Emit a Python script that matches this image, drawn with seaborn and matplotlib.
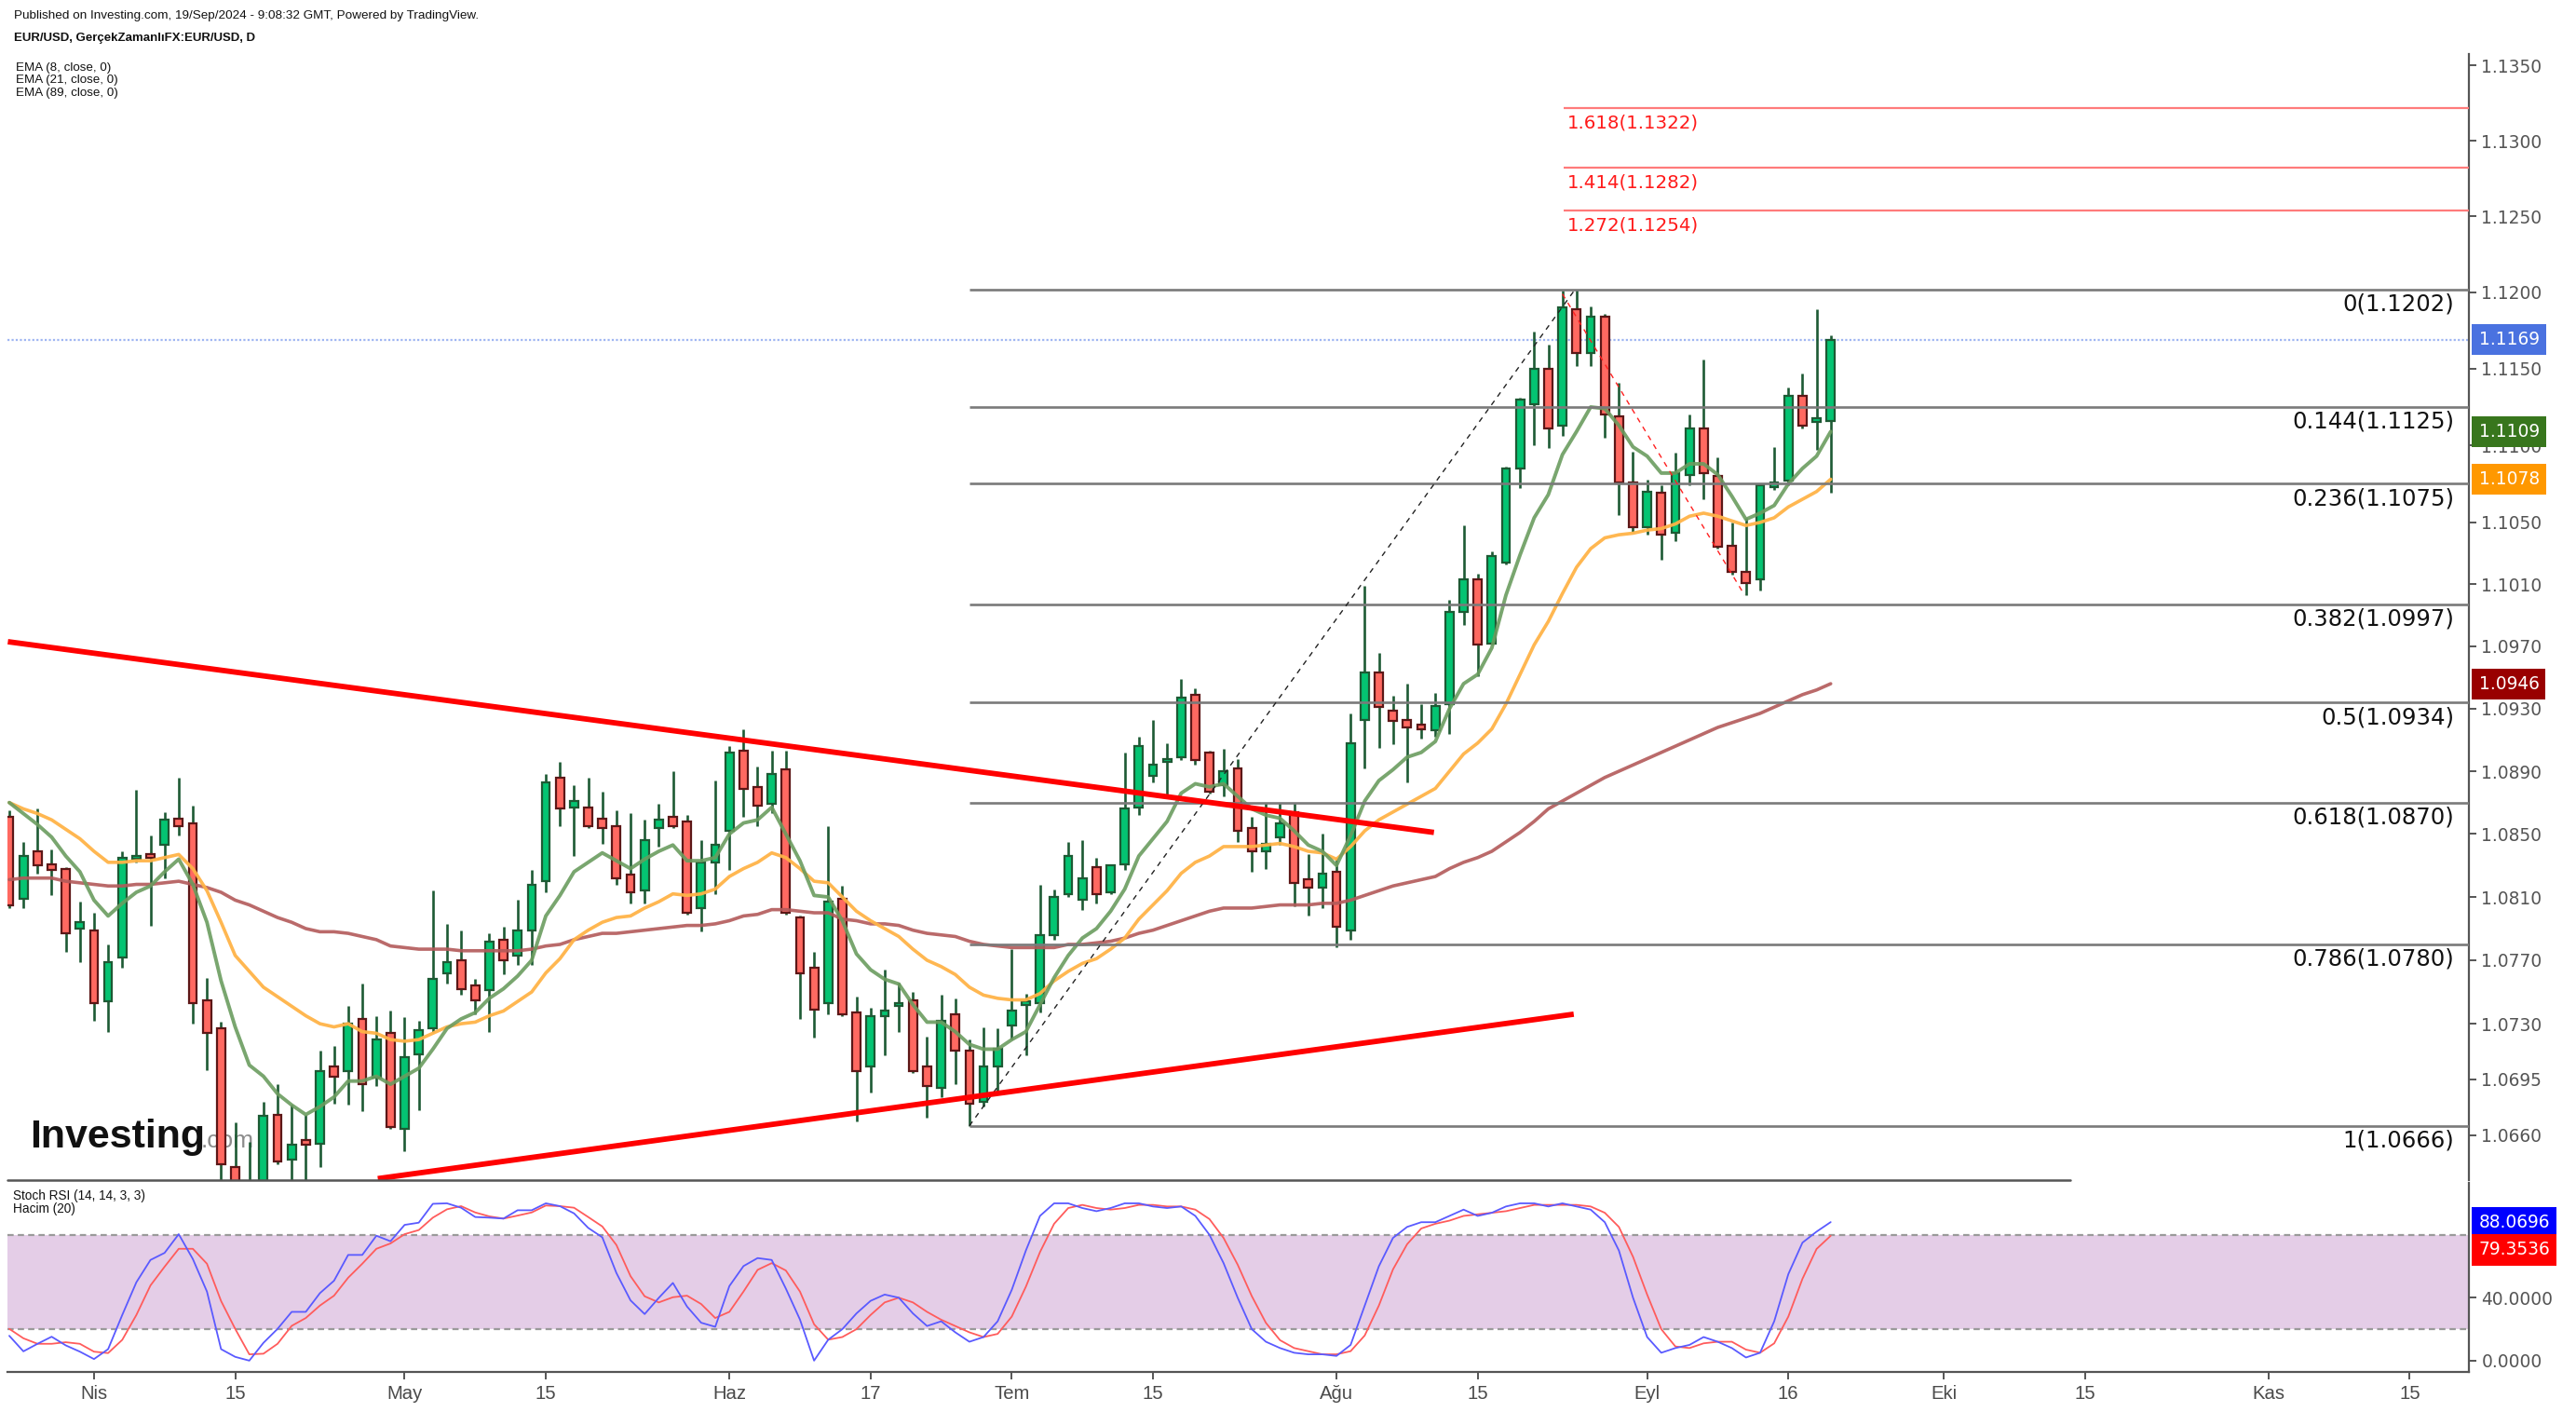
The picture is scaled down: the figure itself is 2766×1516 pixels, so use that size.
import numpy as np
import pandas as pd
import matplotlib
matplotlib.use("Agg")
import matplotlib.pyplot as plt
import matplotlib.transforms as mtransforms
from matplotlib.ticker import FixedLocator, NullLocator, NullFormatter, FuncFormatter
import seaborn as sns

sns.set_theme(style="white")
plt.rcParams["font.family"] = ["DejaVu Sans"]

# EUR/USD daily candles, first bar = 22 Mar 2024
start_day = "2024-03-22"
opens = [1.0861, 1.0809, 1.0839, 1.0831, 1.0828, 1.0790, 1.0789, 1.0744, 1.0772, 1.0834,
         1.0837, 1.0843, 1.0860, 1.0857, 1.0745, 1.0727, 1.0640, 1.0624, 1.0617, 1.0673,
         1.0645, 1.0657, 1.0655, 1.0703, 1.0700, 1.0733, 1.0696, 1.0724, 1.0664, 1.0711,
         1.0727, 1.0762, 1.0770, 1.0754, 1.0751, 1.0783, 1.0773, 1.0789, 1.0820, 1.0886,
         1.0867, 1.0867, 1.0860, 1.0855, 1.0824, 1.0814, 1.0854, 1.0861, 1.0858, 1.0803,
         1.0832, 1.0852, 1.0903, 1.0880, 1.0869, 1.0891, 1.0797, 1.0765, 1.0743, 1.0809,
         1.0737, 1.0703, 1.0735, 1.0741, 1.0745, 1.0703, 1.0690, 1.0736, 1.0713, 1.0681,
         1.0703, 1.0729, 1.0742, 1.0743, 1.0786, 1.0812, 1.0808, 1.0829, 1.0813, 1.0831,
         1.0867, 1.0887, 1.0896, 1.0899, 1.0939, 1.0902, 1.0881, 1.0892, 1.0854, 1.0839,
         1.0848, 1.0864, 1.0821, 1.0816, 1.0826, 1.0789, 1.0923, 1.0953, 1.0929, 1.0923,
         1.0920, 1.0916, 1.0933, 1.0992, 1.1013, 1.0972, 1.1024, 1.1085, 1.1127, 1.1150,
         1.1113, 1.1189, 1.1160, 1.1184, 1.1119, 1.1076, 1.1047, 1.1069, 1.1043, 1.1081,
         1.1111, 1.1080, 1.1035, 1.1018, 1.1013, 1.1073, 1.1077, 1.1132, 1.1115, 1.1116]
highs = [1.0865, 1.0845, 1.0866, 1.0840, 1.0829, 1.0807, 1.0800, 1.0780, 1.0839, 1.0878,
         1.0849, 1.0864, 1.0886, 1.0868, 1.0759, 1.0731, 1.0668, 1.0656, 1.0681, 1.0692,
         1.0679, 1.0673, 1.0713, 1.0716, 1.0741, 1.0755, 1.0735, 1.0738, 1.0734, 1.0732,
         1.0814, 1.0793, 1.0789, 1.0758, 1.0787, 1.0791, 1.0808, 1.0827, 1.0888, 1.0896,
         1.0881, 1.0886, 1.0877, 1.0865, 1.0863, 1.0859, 1.0869, 1.0890, 1.0862, 1.0846,
         1.0884, 1.0906, 1.0917, 1.0893, 1.0903, 1.0903, 1.0798, 1.0775, 1.0855, 1.0817,
         1.0747, 1.0740, 1.0764, 1.0756, 1.0750, 1.0722, 1.0748, 1.0746, 1.0720, 1.0728,
         1.0727, 1.0777, 1.0749, 1.0818, 1.0815, 1.0845, 1.0846, 1.0835, 1.0831, 1.0902,
         1.0912, 1.0923, 1.0908, 1.0949, 1.0943, 1.0903, 1.0904, 1.0898, 1.0861, 1.0870,
         1.0870, 1.0870, 1.0837, 1.0850, 1.0835, 1.0927, 1.1009, 1.0966, 1.0938, 1.0946,
         1.0933, 1.0940, 1.1000, 1.1048, 1.1017, 1.1031, 1.1086, 1.1131, 1.1174, 1.1166,
         1.1201, 1.1202, 1.1191, 1.1186, 1.1141, 1.1096, 1.1078, 1.1074, 1.1095, 1.1120,
         1.1156, 1.1092, 1.1050, 1.1053, 1.1075, 1.1099, 1.1138, 1.1147, 1.1189, 1.1172]
lows = [1.0803, 1.0803, 1.0825, 1.0811, 1.0775, 1.0769, 1.0732, 1.0725, 1.0765, 1.0832,
        1.0792, 1.0822, 1.0849, 1.0730, 1.0701, 1.0622, 1.0610, 1.0601, 1.0604, 1.0642,
        1.0612, 1.0624, 1.0640, 1.0680, 1.0679, 1.0675, 1.0691, 1.0664, 1.0650, 1.0676,
        1.0725, 1.0755, 1.0748, 1.0736, 1.0725, 1.0761, 1.0767, 1.0767, 1.0813, 1.0855,
        1.0836, 1.0854, 1.0844, 1.0818, 1.0806, 1.0806, 1.0842, 1.0854, 1.0799, 1.0788,
        1.0812, 1.0827, 1.0861, 1.0855, 1.0863, 1.0799, 1.0733, 1.0721, 1.0736, 1.0735,
        1.0669, 1.0687, 1.0710, 1.0725, 1.0699, 1.0671, 1.0684, 1.0692, 1.0666, 1.0678,
        1.0687, 1.0720, 1.0710, 1.0737, 1.0783, 1.0810, 1.0802, 1.0806, 1.0812, 1.0827,
        1.0862, 1.0883, 1.0874, 1.0897, 1.0894, 1.0876, 1.0874, 1.0845, 1.0826, 1.0828,
        1.0843, 1.0804, 1.0798, 1.0803, 1.0778, 1.0783, 1.0892, 1.0905, 1.0907, 1.0883,
        1.0911, 1.0912, 1.0914, 1.0984, 1.0951, 1.0971, 1.1023, 1.1072, 1.1100, 1.1098,
        1.1106, 1.1152, 1.1152, 1.1105, 1.1055, 1.1044, 1.1042, 1.1026, 1.1038, 1.1074,
        1.1065, 1.1033, 1.1016, 1.1003, 1.1006, 1.1071, 1.1074, 1.1111, 1.1097, 1.1069]
closes = [1.0805, 1.0836, 1.0830, 1.0827, 1.0787, 1.0794, 1.0743, 1.0769, 1.0835, 1.0836,
          1.0835, 1.0859, 1.0855, 1.0743, 1.0724, 1.0642, 1.0624, 1.0617, 1.0672, 1.0644,
          1.0654, 1.0654, 1.0700, 1.0697, 1.0730, 1.0692, 1.0720, 1.0665, 1.0709, 1.0726,
          1.0758, 1.0769, 1.0752, 1.0745, 1.0782, 1.0770, 1.0789, 1.0818, 1.0883, 1.0866,
          1.0871, 1.0855, 1.0854, 1.0822, 1.0813, 1.0846, 1.0859, 1.0855, 1.0800, 1.0832,
          1.0843, 1.0902, 1.0879, 1.0868, 1.0888, 1.0800, 1.0762, 1.0739, 1.0807, 1.0736,
          1.0700, 1.0735, 1.0738, 1.0743, 1.0700, 1.0691, 1.0732, 1.0713, 1.0680, 1.0703,
          1.0714, 1.0738, 1.0744, 1.0786, 1.0810, 1.0836, 1.0822, 1.0812, 1.0830, 1.0866,
          1.0906, 1.0894, 1.0898, 1.0937, 1.0897, 1.0877, 1.0890, 1.0852, 1.0839, 1.0844,
          1.0857, 1.0819, 1.0816, 1.0825, 1.0791, 1.0908, 1.0953, 1.0931, 1.0922, 1.0918,
          1.0917, 1.0932, 1.0992, 1.1013, 1.0971, 1.1028, 1.1085, 1.1130, 1.1150, 1.1111,
          1.1190, 1.1160, 1.1184, 1.1120, 1.1076, 1.1047, 1.1070, 1.1042, 1.1082, 1.1111,
          1.1082, 1.1034, 1.1018, 1.1011, 1.1074, 1.1076, 1.1132, 1.1113, 1.1118, 1.1169]

ema8 = [1.0870, 1.0863, 1.0856, 1.0848, 1.0836, 1.0826, 1.0808, 1.0798, 1.0806, 1.0813,
        1.0817, 1.0826, 1.0834, 1.0818, 1.0794, 1.0757, 1.0728, 1.0704, 1.0697, 1.0686,
        1.0679, 1.0673, 1.0678, 1.0684, 1.0694, 1.0694, 1.0697, 1.0692, 1.0697, 1.0702,
        1.0714, 1.0727, 1.0733, 1.0737, 1.0746, 1.0752, 1.0760, 1.0770, 1.0798, 1.0811,
        1.0826, 1.0832, 1.0838, 1.0833, 1.0828, 1.0834, 1.0839, 1.0843, 1.0833, 1.0833,
        1.0835, 1.0850, 1.0857, 1.0859, 1.0867, 1.0850, 1.0833, 1.0811, 1.0810, 1.0795,
        1.0774, 1.0764, 1.0758, 1.0755, 1.0742, 1.0731, 1.0731, 1.0725, 1.0717, 1.0714,
        1.0714, 1.0720, 1.0725, 1.0742, 1.0759, 1.0773, 1.0784, 1.0790, 1.0801, 1.0815,
        1.0836, 1.0847, 1.0858, 1.0876, 1.0882, 1.0880, 1.0882, 1.0874, 1.0866, 1.0862,
        1.0860, 1.0852, 1.0843, 1.0839, 1.0830, 1.0849, 1.0871, 1.0884, 1.0891, 1.0899,
        1.0902, 1.0909, 1.0930, 1.0946, 1.0952, 1.0969, 1.1003, 1.1029, 1.1053, 1.1068,
        1.1094, 1.1109, 1.1125, 1.1124, 1.1113, 1.1099, 1.1093, 1.1082, 1.1082, 1.1088,
        1.1088, 1.1081, 1.1067, 1.1052, 1.1056, 1.1061, 1.1075, 1.1085, 1.1093, 1.1109]
ema21 = [1.0870, 1.0866, 1.0863, 1.0859, 1.0853, 1.0847, 1.0839, 1.0832, 1.0832, 1.0833,
         1.0833, 1.0835, 1.0837, 1.0828, 1.0814, 1.0794, 1.0773, 1.0763, 1.0753, 1.0747,
         1.0741, 1.0735, 1.0730, 1.0728, 1.0730, 1.0725, 1.0724, 1.0720, 1.0719, 1.0720,
         1.0724, 1.0728, 1.0730, 1.0731, 1.0735, 1.0738, 1.0744, 1.0750, 1.0762, 1.0771,
         1.0783, 1.0789, 1.0794, 1.0797, 1.0798, 1.0803, 1.0807, 1.0812, 1.0811, 1.0812,
         1.0815, 1.0823, 1.0828, 1.0832, 1.0838, 1.0835, 1.0828, 1.0820, 1.0819, 1.0810,
         1.0801, 1.0795, 1.0790, 1.0785, 1.0777, 1.0770, 1.0766, 1.0761, 1.0753, 1.0748,
         1.0746, 1.0745, 1.0745, 1.0749, 1.0757, 1.0763, 1.0768, 1.0771, 1.0777, 1.0784,
         1.0796, 1.0805, 1.0814, 1.0825, 1.0832, 1.0836, 1.0842, 1.0842, 1.0842, 1.0843,
         1.0844, 1.0842, 1.0839, 1.0838, 1.0834, 1.0842, 1.0852, 1.0859, 1.0864, 1.0869,
         1.0874, 1.0879, 1.0890, 1.0901, 1.0908, 1.0917, 1.0933, 1.0952, 1.0971, 1.0986,
         1.1004, 1.1021, 1.1033, 1.1040, 1.1042, 1.1043, 1.1045, 1.1046, 1.1049, 1.1054,
         1.1056, 1.1054, 1.1051, 1.1048, 1.1050, 1.1053, 1.1060, 1.1065, 1.1070, 1.1078]
ema89 = [1.0821, 1.0822, 1.0822, 1.0822, 1.0820, 1.0819, 1.0818, 1.0817, 1.0817, 1.0818,
         1.0818, 1.0819, 1.0820, 1.0818, 1.0816, 1.0813, 1.0808, 1.0805, 1.0801, 1.0797,
         1.0794, 1.0790, 1.0788, 1.0788, 1.0787, 1.0785, 1.0783, 1.0779, 1.0778, 1.0777,
         1.0777, 1.0777, 1.0776, 1.0776, 1.0776, 1.0776, 1.0776, 1.0777, 1.0779, 1.0780,
         1.0783, 1.0785, 1.0787, 1.0787, 1.0788, 1.0789, 1.0790, 1.0791, 1.0792, 1.0792,
         1.0793, 1.0795, 1.0798, 1.0799, 1.0802, 1.0802, 1.0801, 1.0800, 1.0800, 1.0796,
         1.0795, 1.0793, 1.0793, 1.0792, 1.0789, 1.0787, 1.0786, 1.0785, 1.0782, 1.0780,
         1.0779, 1.0778, 1.0778, 1.0778, 1.0778, 1.0780, 1.0780, 1.0781, 1.0782, 1.0784,
         1.0787, 1.0789, 1.0792, 1.0795, 1.0798, 1.0801, 1.0803, 1.0803, 1.0803, 1.0804,
         1.0805, 1.0805, 1.0805, 1.0806, 1.0806, 1.0808, 1.0811, 1.0814, 1.0817, 1.0819,
         1.0821, 1.0823, 1.0828, 1.0832, 1.0835, 1.0839, 1.0845, 1.0851, 1.0858, 1.0866,
         1.0871, 1.0876, 1.0881, 1.0886, 1.0890, 1.0894, 1.0898, 1.0902, 1.0906, 1.0910,
         1.0914, 1.0918, 1.0921, 1.0924, 1.0927, 1.0931, 1.0935, 1.0939, 1.0942, 1.0946]

stoch_k = [15.8, 5.9, 10.7, 15.2, 9.7, 5.7, 1.0, 7.3, 29.0, 49.8,
           64.0, 68.5, 80.4, 64.6, 43.9, 7.3, 2.4, 0.0, 11.3, 20.2,
           31.0, 31.0, 42.9, 50.8, 67.2, 67.2, 79.4, 75.9, 86.3, 87.7,
           99.7, 100.0, 97.2, 91.3, 90.9, 90.3, 95.6, 95.6, 100.0, 98.2,
           93.6, 84.4, 78.4, 55.7, 38.3, 29.6, 39.9, 49.4, 34.4, 24.1,
           21.5, 47.4, 60.1, 65.2, 64.0, 45.8, 26.1, 0.0, 13.3, 20.0,
           30.0, 38.0, 42.0, 40.0, 30.0, 22.0, 25.0, 18.0, 12.0, 15.0,
           25.0, 45.0, 70.0, 92.0, 100.0, 100.0, 97.0, 95.0, 97.0, 100.0,
           100.0, 98.0, 97.0, 98.0, 92.0, 80.0, 62.0, 40.0, 20.0, 12.0,
           8.0, 5.0, 4.0, 4.0, 3.0, 10.0, 35.0, 60.0, 78.0, 85.0,
           88.0, 88.0, 92.0, 96.0, 92.0, 94.0, 98.0, 100.0, 100.0, 98.0,
           100.0, 98.0, 96.0, 88.0, 70.0, 40.0, 15.0, 5.0, 8.0, 10.0,
           15.0, 12.0, 8.0, 2.0, 5.0, 25.0, 55.0, 75.0, 82.0, 88.0696]
stoch_d = [20.2, 14.2, 10.7, 10.7, 11.7, 10.7, 5.7, 4.8, 13.2, 29.0,
           47.8, 59.7, 71.1, 71.1, 61.6, 37.9, 20.2, 4.0, 4.4, 10.7,
           22.1, 27.1, 35.0, 41.3, 52.7, 61.6, 71.1, 74.5, 80.4, 83.0,
           90.9, 96.2, 98.2, 94.2, 91.7, 90.3, 92.2, 94.2, 98.6, 98.2,
           97.2, 91.3, 85.3, 73.5, 53.7, 40.9, 37.0, 40.3, 41.3, 36.0,
           27.1, 31.0, 43.9, 57.7, 62.0, 57.3, 43.9, 23.1, 13.3, 15.0,
           20.0, 29.0, 37.0, 40.0, 37.0, 31.0, 26.0, 22.0, 18.0, 15.0,
           17.0, 28.0, 47.0, 69.0, 87.0, 97.0, 99.0, 97.0, 96.0, 97.0,
           99.0, 99.0, 98.0, 98.0, 96.0, 90.0, 78.0, 61.0, 41.0, 24.0,
           13.0, 8.0, 6.0, 4.0, 4.0, 6.0, 16.0, 35.0, 58.0, 74.0,
           84.0, 87.0, 89.0, 92.0, 93.0, 94.0, 95.0, 97.0, 99.0, 99.0,
           99.0, 99.0, 98.0, 94.0, 85.0, 66.0, 42.0, 20.0, 9.0, 8.0,
           11.0, 12.0, 12.0, 7.0, 5.0, 11.0, 28.0, 52.0, 71.0, 79.3536]

fib_ratios = ["0", "0.144", "0.236", "0.382", "0.5", "0.618", "0.786", "1"]
fib_prices = [1.1202, 1.1125, 1.1075, 1.0997, 1.0934, 1.0870, 1.0780, 1.0666]
ext_ratios = ["1.272", "1.414", "1.618"]
ext_prices = [1.1254, 1.1282, 1.1322]

price_ticks = [1.1350, 1.1300, 1.1250, 1.1200, 1.1150, 1.1100, 1.1050, 1.1010, 1.0970,
               1.0930, 1.0890, 1.0850, 1.0810, 1.0770, 1.0730, 1.0695, 1.0660]
stoch_ticks = [0, 40]

tick_dates = ["2024-04-01", "2024-04-15", "2024-05-01", "2024-05-15", "2024-06-03", "2024-06-17",
              "2024-07-01", "2024-07-15", "2024-08-01", "2024-08-15", "2024-09-02", "2024-09-16",
              "2024-10-01", "2024-10-15", "2024-11-01", "2024-11-15"]
tick_labels = ["Nis", "15", "May", "15", "Haz", "17", "Tem", "15", "Ağu", "15", "Eyl", "16",
               "Eki", "15", "Kas", "15"]

# drawings (bar position, price)
upper_trend_x = [-0.1, 100.9]
upper_trend_y = [1.0973, 1.0851]
lower_trend_x = [26.1, 110.8]
lower_trend_y = [1.0633, 1.0736]
swing_x = [68.0, 110.9]
swing_y = [1.0666, 1.1202]
pullback_x = [110.0, 122.9]
pullback_y = [1.1199, 1.1003]

last_price = 1.1169
tag_prices = [1.1169, 1.1109, 1.1078, 1.0946]
tag_colors = ["#4a72e0", "#38761d", "#ff9800", "#990000"]

# ---------------------------------------------------------------
n = len(opens)
pos = np.arange(n)
all_days = pd.bdate_range(start_day, "2024-11-15")
tick_pos = all_days.get_indexer(pd.to_datetime(tick_dates))

x_left, x_right = -0.13, 174.2
y_low, y_high = 1.06321, 1.13576

fig = plt.figure(figsize=(13.83, 7.58), dpi=200, facecolor="white")
ax = fig.add_axes([0.00289, 0.16425, 0.95553, 0.79749])
ax2 = fig.add_axes([0.00289, 0.02836, 0.95553, 0.13391])

# main price panel
ax.set_yscale("log")
o = np.array(opens)
c = np.array(closes)
h = np.array(highs)
l = np.array(lows)
up = c >= o
body_lo = np.minimum(o, c)
body_h = np.maximum(np.abs(c - o), 0.00007)

ax.vlines(pos, l, h, color="#1d5a34", lw=0.95, zorder=3)
ax.bar(pos[up], body_h[up], bottom=body_lo[up], width=0.58, color="#04c472",
       edgecolor="#1d5a34", linewidth=0.8, zorder=4)
ax.bar(pos[~up], body_h[~up], bottom=body_lo[~up], width=0.58, color="#ff6961",
       edgecolor="#5c1717", linewidth=0.8, zorder=4)

sns.lineplot(x=pos, y=ema89, ax=ax, color="#b35a5a", lw=1.3, alpha=0.9, zorder=5)
sns.lineplot(x=pos, y=ema21, ax=ax, color="#ffb347", lw=1.3, alpha=0.95, zorder=5)
sns.lineplot(x=pos, y=ema8, ax=ax, color="#6b9c5f", lw=1.4, alpha=0.9, zorder=5)

# fibonacci retracement
ax.hlines(fib_prices, swing_x[0], x_right, color="#7a7a7a", lw=0.95, zorder=6)
ax.hlines(ext_prices, 110.1, x_right, color="#ff7b7b", lw=0.8, zorder=6)
blend = mtransforms.blended_transform_factory(ax.transAxes, ax.transData)
for r, p in zip(fib_ratios, fib_prices):
    ax.annotate(f"{r}({p:.4f})", xy=(1, p), xycoords=blend, xytext=(-5.8, -1.4),
                textcoords="offset points", ha="right", va="top", fontsize=8.8,
                color="#111111", zorder=7)
for r, p in zip(ext_ratios, ext_prices):
    ax.annotate(f"{r}({p:.4f})", xy=(110.1, p), xytext=(1.5, -2.4),
                textcoords="offset points", ha="left", va="top", fontsize=7.1,
                color="#ff1a1a", zorder=7)

ax.plot(swing_x, swing_y, color="#222222", lw=0.5, ls=(0, (4, 4)), zorder=6)
ax.plot(pullback_x, pullback_y, color="#ff2020", lw=0.5, ls=(0, (4, 4)), zorder=6)
ax.plot(upper_trend_x, upper_trend_y, color="#ff0000", lw=2.1, zorder=7,
        solid_capstyle="butt")
ax.plot(lower_trend_x, lower_trend_y, color="#ff0000", lw=2.1, zorder=7,
        solid_capstyle="butt")

ax.axhline(last_price, color="#9fb6f2", lw=0.8, ls=(0, (1, 1)), zorder=2)

ax.set_xlim(x_left, x_right)
ax.set_ylim(y_low, y_high)
ax.set_xticks([])
ax.set_ylabel("")
ax.yaxis.tick_right()
ax.yaxis.set_major_locator(FixedLocator(price_ticks))
ax.yaxis.set_minor_locator(NullLocator())
ax.yaxis.set_minor_formatter(NullFormatter())
ax.yaxis.set_major_formatter(FuncFormatter(lambda v, _: f"{v:.4f}"))
ax.tick_params(axis="y", which="major", right=True, left=False, length=3, width=0.7,
               color="#555555", labelsize=6.7, labelcolor="#555555", pad=1.8)
for side in ["left", "top", "bottom"]:
    ax.spines[side].set_visible(False)
ax.spines["right"].set_color("#555555")
ax.spines["right"].set_linewidth(0.8)
ax.plot([x_left, 146.0], [y_low, y_low], color="#555555", lw=0.9, clip_on=False, zorder=8)

for p, col in zip(tag_prices, tag_colors):
    ax.annotate(f"{p:.4f}", xy=(1, p), xycoords=blend, xytext=(3.8, 0),
                textcoords="offset points", ha="left", va="center", fontsize=6.7,
                color="white", annotation_clip=False,
                bbox=dict(boxstyle="square,pad=0.38", fc=col, ec="none"), zorder=9)

# investing.com watermark
ax.text(0.0091, 0.029, "Investing", transform=ax.transAxes, fontsize=15.5,
        fontweight="heavy", family=["Liberation Sans", "DejaVu Sans"], color="#111111",
        va="baseline", zorder=1)
ax.text(0.0785, 0.029, ".com", transform=ax.transAxes, fontsize=9.5,
        family=["Liberation Sans", "DejaVu Sans"], color="#8c8c8c", va="baseline", zorder=1)

# stochastic RSI panel
ax2.axhspan(20, 80, color="#e4cde7", lw=0, zorder=0)
ax2.axhline(80, color="#9a9a9a", lw=0.8, ls=(0, (3, 2)), zorder=1)
ax2.axhline(20, color="#9a9a9a", lw=0.8, ls=(0, (3, 2)), zorder=1)
sns.lineplot(x=pos, y=stoch_d, ax=ax2, color="#ff5c5c", lw=0.65, zorder=3)
sns.lineplot(x=pos, y=stoch_k, ax=ax2, color="#5a5aff", lw=0.65, zorder=4)
ax2.set_xlim(x_left, x_right)
ax2.set_ylim(-7.2, 113.0)
ax2.set_ylabel("")
ax2.yaxis.tick_right()
ax2.set_yticks(stoch_ticks)
ax2.set_yticklabels([f"{v:.4f}" for v in stoch_ticks])
ax2.tick_params(axis="y", right=True, left=False, length=3, width=0.7, color="#555555",
                labelsize=6.7, labelcolor="#555555", pad=1.8)
ax2.set_xticks(tick_pos)
ax2.set_xticklabels(tick_labels, family=["Liberation Sans", "DejaVu Sans"])
ax2.tick_params(axis="x", bottom=True, length=3, width=0.7, color="#555555",
                labelsize=7.3, labelcolor="#4a4a4a", pad=2)
for side in ["left", "top"]:
    ax2.spines[side].set_visible(False)
for side in ["right", "bottom"]:
    ax2.spines[side].set_color("#555555")
    ax2.spines[side].set_linewidth(0.8)

blend2 = mtransforms.blended_transform_factory(ax2.transAxes, ax2.transData)
for val, shown, col in [(stoch_k[-1], 88.07, "#0000ff"), (stoch_d[-1], 70.4, "#ff0000")]:
    ax2.annotate(f"{val:.4f}", xy=(1, shown), xycoords=blend2, xytext=(3.8, 0),
                 textcoords="offset points", ha="left", va="center", fontsize=6.7,
                 color="white", annotation_clip=False,
                 bbox=dict(boxstyle="square,pad=0.38", fc=col, ec="none"), zorder=9)

ax2.text(0.0023, 0.93, "Stoch RSI (14, 14, 3, 3)", transform=ax2.transAxes, fontsize=4.9,
         family=["Liberation Sans", "DejaVu Sans"], color="#111111", va="center")
ax2.text(0.0023, 0.86, "Hacim (20)", transform=ax2.transAxes, fontsize=4.9,
         family=["Liberation Sans", "DejaVu Sans"], color="#111111", va="center")

# header
hdr_font = ["Liberation Sans", "DejaVu Sans"]
fig.text(15 / 2766, 1 - 17 / 1516,
         "Published on Investing.com, 19/Sep/2024 - 9:08:32 GMT, Powered by TradingView.",
         fontsize=4.85, family=hdr_font, color="#111111", va="center")
fig.text(15 / 2766, 1 - 41 / 1516, "EUR/USD, GerçekZamanlıFX:EUR/USD, D", fontsize=4.75,
         family=hdr_font, fontweight="bold", color="#111111", va="center")
for i, lbl in enumerate(["EMA (8, close, 0)", "EMA (21, close, 0)", "EMA (89, close, 0)"]):
    fig.text(17 / 2766, 1 - (73 + 13.5 * i) / 1516, lbl, fontsize=4.8, family=hdr_font,
             color="#111111", va="center")

fig.savefig("out.png", dpi=200, facecolor="white")
